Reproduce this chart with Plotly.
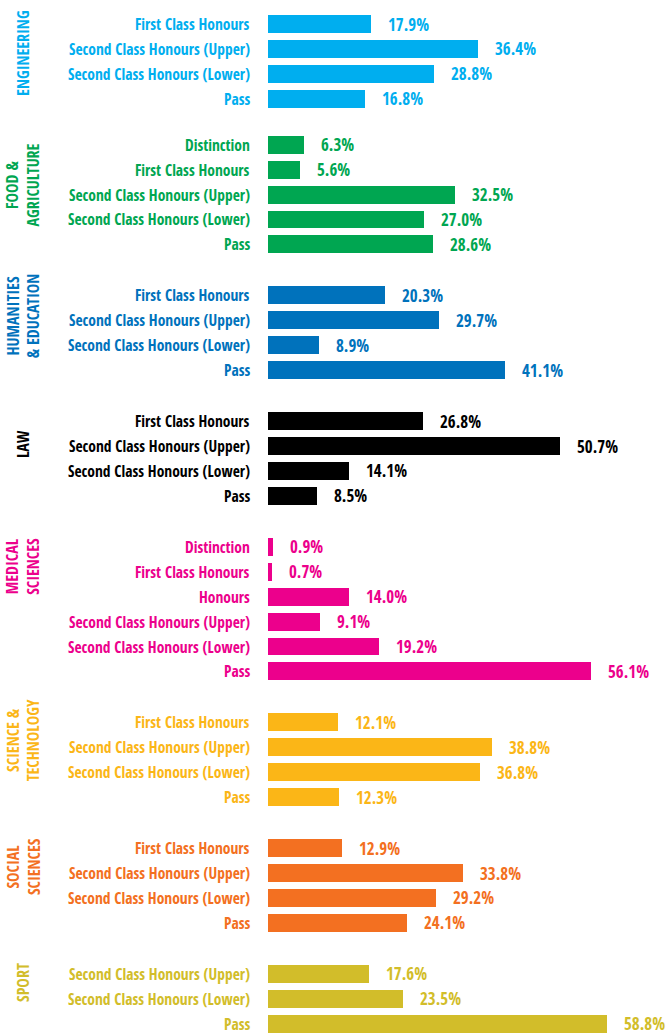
import plotly.graph_objects as go

# ---------------- data ----------------
group_names = ["ENGINEERING", "FOOD &<br>AGRICULTURE", "HUMANITIES<br>& EDUCATION", "LAW",
               "MEDICAL<br>SCIENCES", "SCIENCE &<br>TECHNOLOGY", "SOCIAL<br>SCIENCES", "SPORT"]

eng_labels = ["First Class Honours", "Second Class Honours (Upper)", "Second Class Honours (Lower)", "Pass"]
eng_values = [17.9, 36.4, 28.8, 16.8]

food_labels = ["Distinction", "First Class Honours", "Second Class Honours (Upper)",
               "Second Class Honours (Lower)", "Pass"]
food_values = [6.3, 5.6, 32.5, 27.0, 28.6]

hum_labels = ["First Class Honours", "Second Class Honours (Upper)", "Second Class Honours (Lower)", "Pass"]
hum_values = [20.3, 29.7, 8.9, 41.1]

law_labels = ["First Class Honours", "Second Class Honours (Upper)", "Second Class Honours (Lower)", "Pass"]
law_values = [26.8, 50.7, 14.1, 8.5]

med_labels = ["Distinction", "First Class Honours", "Honours", "Second Class Honours (Upper)",
              "Second Class Honours (Lower)", "Pass"]
med_values = [0.9, 0.7, 14.0, 9.1, 19.2, 56.1]

sci_labels = ["First Class Honours", "Second Class Honours (Upper)", "Second Class Honours (Lower)", "Pass"]
sci_values = [12.1, 38.8, 36.8, 12.3]

soc_labels = ["First Class Honours", "Second Class Honours (Upper)", "Second Class Honours (Lower)", "Pass"]
soc_values = [12.9, 33.8, 29.2, 24.1]

sport_labels = ["Second Class Honours (Upper)", "Second Class Honours (Lower)", "Pass"]
sport_values = [17.6, 23.5, 58.8]

# ---------------- style ----------------
group_colors = ["#00AEEF", "#00A651", "#0072BC", "#000000",
                "#EC008C", "#FBB617", "#F37021", "#D2BD2A"]
group_gaps = [1.85, 2.05, 2.05, 2.05, 2.05, 2.05, 2.05]   # spacing (in rows) between groups
label_offsets = [1.2, 1.64, 0.84, 0.92, 0.8, 0.72, 0.76, 0.36]  # group title centre, rows below first bar

FONT = "Open Sans Condensed, Roboto Condensed, sans-serif"
W, H = 667, 1034
LEFT = 268
PX_PER_PCT = 5.765
ROW_PX = 24.9
FIRST_ROW_PX = 24

all_labels = [eng_labels, food_labels, hum_labels, law_labels, med_labels, sci_labels, soc_labels, sport_labels]
all_values = [eng_values, food_values, hum_values, law_values, med_values, sci_values, soc_values, sport_values]

fig = go.Figure()
annotations = []
pos = 0.0
for gi, (labels, values) in enumerate(zip(all_labels, all_values)):
    if gi > 0:
        pos += group_gaps[gi - 1]
    ys = [pos + k for k in range(len(values))]
    first = ys[0]
    pos = ys[-1]
    color = group_colors[gi]
    fig.add_trace(go.Bar(
        x=values, y=ys, orientation="h", width=0.72,
        marker=dict(color=color, line=dict(width=0)),
        hoverinfo="skip", showlegend=False,
    ))
    for lab, v, y in zip(labels, values, ys):
        annotations.append(dict(
            x=0, y=y, xref="x", yref="y", text=lab, showarrow=False,
            xanchor="right", yanchor="middle", xshift=-16,
            font=dict(family=FONT, size=15.5, color=color, weight="bold"),
        ))
        annotations.append(dict(
            x=v, y=y, xref="x", yref="y", text=f"{v:.1f}%", showarrow=False,
            xanchor="left", yanchor="middle", xshift=15,
            font=dict(family=FONT, size=17, color=color, weight="bold"),
        ))
    annotations.append(dict(
        x=0, y=first + label_offsets[gi], xref="x", yref="y", text=group_names[gi],
        showarrow=False, textangle=-90, xanchor="center", yanchor="middle",
        xshift=23 - LEFT,
        font=dict(family=FONT, size=16, color=color, weight="bold"),
    ))

last = pos
y_top = -FIRST_ROW_PX / ROW_PX
y_bottom = last + (H - (FIRST_ROW_PX + last * ROW_PX)) / ROW_PX

fig.update_layout(
    width=W, height=H,
    margin=dict(l=LEFT, r=0, t=0, b=0, pad=0),
    paper_bgcolor="white", plot_bgcolor="white",
    xaxis=dict(range=[0, (W - LEFT) / PX_PER_PCT], visible=False, fixedrange=True),
    yaxis=dict(range=[y_bottom, y_top], visible=False, fixedrange=True),
    annotations=annotations,
    bargap=0,
)

fig.write_html("out.html", config={"displayModeBar": False},
               post_script="document.body.style.margin='0px';")
